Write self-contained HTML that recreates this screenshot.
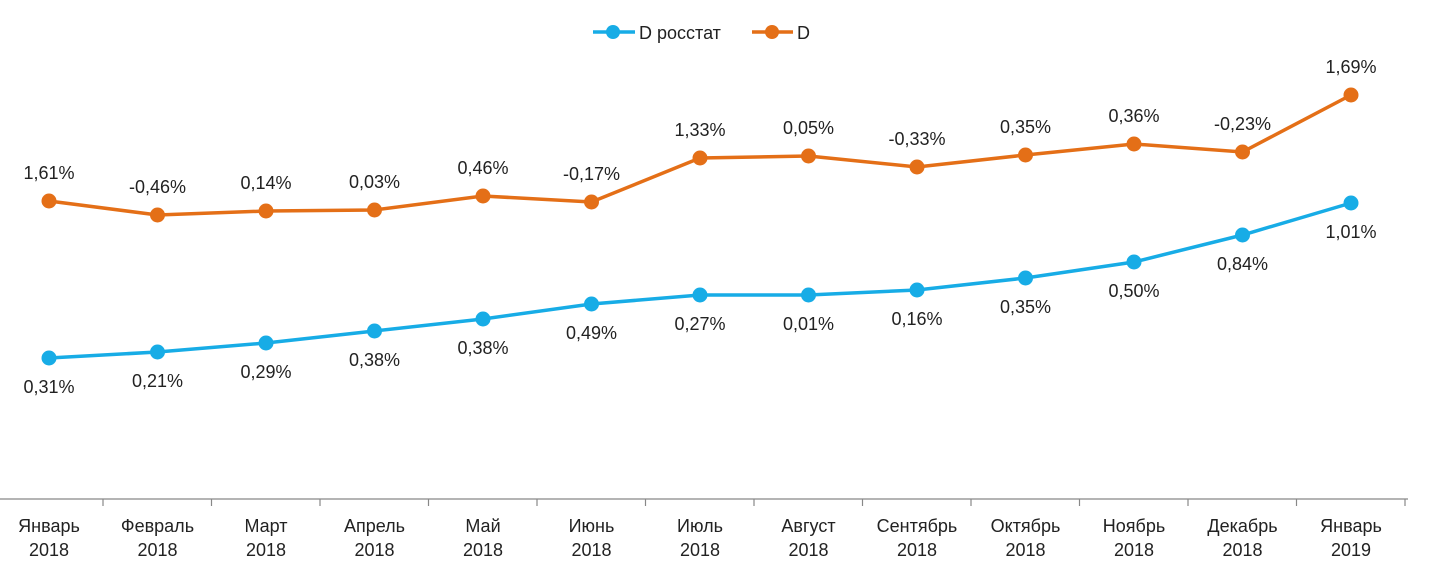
<!DOCTYPE html>
<html><head><meta charset="utf-8"><style>body{margin:0;background:#fff}svg{display:block}text{font-family:"Liberation Sans",sans-serif;font-size:18px;fill:#222}</style></head><body>
<svg width="1430" height="576" viewBox="0 0 1430 576">
<line x1="0" y1="499" x2="1408" y2="499" stroke="#888" stroke-width="1.2"/>
<g stroke="#888" stroke-width="1.2" id="ticks"></g>
<line x1="593" y1="32" x2="635" y2="32" stroke="#17ACE6" stroke-width="3.5"/><circle cx="613" cy="32" r="7" fill="#17ACE6"/>
<text x="639" y="39">D росстат</text>
<line x1="752" y1="32" x2="793" y2="32" stroke="#E46F17" stroke-width="3.5"/><circle cx="772" cy="32" r="7" fill="#E46F17"/>
<text x="797" y="39">D</text>
<g id="g"></g>
</svg>
<script>
var xs=[],i;for(i=0;i<13;i++)xs.push(49+i*108.5);
var oy=[201,215,211,210,196,202,158,156,167,155,144,152,95];
var by=[358,352,343,331,319,304,295,295,290,278,262,235,203];
var ol=["1,61%","-0,46%","0,14%","0,03%","0,46%","-0,17%","1,33%","0,05%","-0,33%","0,35%","0,36%","-0,23%","1,69%"];
var bl=["0,31%","0,21%","0,29%","0,38%","0,38%","0,49%","0,27%","0,01%","0,16%","0,35%","0,50%","0,84%","1,01%"];
var m=["Январь","Февраль","Март","Апрель","Май","Июнь","Июль","Август","Сентябрь","Октябрь","Ноябрь","Декабрь","Январь"];
var s="";
function pl(y,c){var p=xs.map(function(x,i){return x+","+y[i]}).join(" ");s+='<polyline points="'+p+'" fill="none" stroke="'+c+'" stroke-width="3.5"/>';xs.forEach(function(x,i){s+='<circle cx="'+x+'" cy="'+y[i]+'" r="7.5" fill="'+c+'"/>'});}
pl(oy,"#E46F17");pl(by,"#17ACE6");
for(i=0;i<13;i++){s+='<text x="'+xs[i]+'" y="'+(oy[i]-22)+'" text-anchor="middle">'+ol[i]+'</text>';
s+='<text x="'+xs[i]+'" y="'+(by[i]+35)+'" text-anchor="middle">'+bl[i]+'</text>';
s+='<text x="'+xs[i]+'" y="532" text-anchor="middle">'+m[i]+'</text><text x="'+xs[i]+'" y="556" text-anchor="middle">'+(i==12?2019:2018)+'</text>';}
document.getElementById("g").innerHTML=s;
var t="";for(i=0;i<13;i++){var x=103+i*108.5;t+='<line x1="'+x+'" y1="499" x2="'+x+'" y2="506"/>';}
document.getElementById("ticks").innerHTML=t;
</script>
</body></html>
